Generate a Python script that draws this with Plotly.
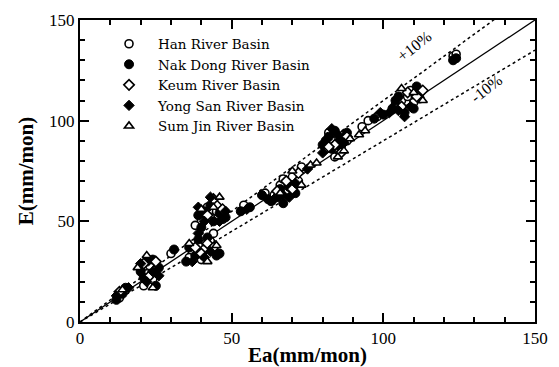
import plotly.graph_objects as go

# ---- data (Ea, E) in mm/mon ----
han_x = [13, 15, 21, 22, 23, 24, 25, 20, 30, 37, 39, 41, 40, 43, 44, 36, 40, 43, 45, 47, 42, 38, 54, 61,
         64, 66, 68, 70, 72, 67, 73, 81, 83, 85, 87, 84, 88, 82, 93, 95, 98, 104, 106, 108, 110, 109, 112, 123, 124]
han_y = [12, 16, 18, 24, 28, 21, 26, 26, 34, 35, 38, 36, 31, 40, 44, 32, 50, 52, 55, 51, 57, 48, 58, 64,
         63, 68, 65, 72, 70, 71, 77, 86, 90, 88, 93, 82, 90, 94, 97, 100, 102, 108, 110, 112, 109, 115, 114, 132, 133]

nak_x = [12, 14, 15, 20, 22, 24, 26, 21, 25, 31, 35, 38, 42, 45, 46, 39, 36, 39, 41, 44, 46, 48, 40, 43,
         53, 56, 60, 62, 63, 65, 67, 69, 71, 66, 80, 82, 84, 86, 88, 83, 81, 86, 97, 100,
         103, 105, 107, 110, 112, 111, 104, 124, 123]
nak_y = [11, 14, 17, 25, 30, 31, 27, 22, 18, 36, 30, 33, 42, 33, 34, 41, 37, 53, 55, 50, 54, 52, 47, 58,
         55, 57, 63, 61, 60, 62, 59, 67, 64, 66, 88, 92, 95, 91, 94, 86, 90, 87, 101, 103,
         106, 112, 104, 106, 111, 117, 110, 131, 130]

keum_x = [13, 23, 21, 25, 38, 40, 42, 44, 42, 45, 47, 44, 68, 70, 65, 72, 84, 86, 88, 82, 106, 108, 111, 113]
keum_y = [15, 23, 29, 30, 37, 34, 39, 37, 53, 58, 56, 61, 70, 66, 65, 74, 88, 84, 92, 87, 107, 114, 112, 115]

yong_x = [12, 16, 22, 24, 26, 20, 37, 41, 43, 39, 41, 43, 46, 39, 48, 55, 64, 69, 71, 67, 75, 80, 85, 87, 83,
          99, 105, 107, 109, 102]
yong_y = [13, 17, 20, 25, 23, 29, 30, 32, 35, 44, 50, 62, 50, 57, 55, 56, 61, 62, 69, 63, 76, 84, 93, 89, 96,
          104, 105, 102, 107, 104]

sum_x = [14, 22, 19, 24, 36, 42, 45, 44, 40, 46, 66, 70, 73, 76, 78, 85, 89, 87, 94, 92, 110, 113, 106]
sum_y = [16, 33, 27, 17, 39, 30, 38, 57, 56, 62, 64, 75, 68, 78, 79, 82, 91, 85, 95, 93, 114, 110, 116]

series_names = ["Han River Basin", "Nak Dong River Basin", "Keum River Basin",
                "Yong San River Basin", "Sum Jin River Basin"]

line_x = [0, 150]
ratio_labels = ["+10%", "-10%"]

fig = go.Figure()

# reference lines (1:1 and +/-10 %)
fig.add_trace(go.Scatter(x=line_x, y=line_x, mode="lines",
                         line=dict(color="black", width=1.3), showlegend=False, hoverinfo="skip"))
fig.add_trace(go.Scatter(x=line_x, y=[v * 1.1 for v in line_x], mode="lines",
                         line=dict(color="black", width=1.5, dash="dot"), showlegend=False, hoverinfo="skip"))
fig.add_trace(go.Scatter(x=line_x, y=[v * 0.9 for v in line_x], mode="lines",
                         line=dict(color="black", width=1.5, dash="dot"), showlegend=False, hoverinfo="skip"))

styles = [
    dict(symbol="circle", color="white", size=8, line=dict(color="black", width=1.6)),
    dict(symbol="circle", color="black", size=9, line=dict(color="black", width=1)),
    dict(symbol="diamond", color="white", size=8, line=dict(color="black", width=1.6)),
    dict(symbol="diamond", color="black", size=8, line=dict(color="black", width=1)),
    dict(symbol="triangle-up", color="white", size=8, line=dict(color="black", width=1.6)),
]
xs = [han_x, nak_x, keum_x, yong_x, sum_x]
ys = [han_y, nak_y, keum_y, yong_y, sum_y]
for name, x, y, st in zip(series_names, xs, ys, styles):
    fig.add_trace(go.Scatter(x=x, y=y, mode="markers", name=name, marker=st, cliponaxis=True))

fig.add_annotation(x=110, y=137, text=ratio_labels[0], showarrow=False, textangle=-38,
                   font=dict(family="Liberation Serif", size=16, color="black"))
fig.add_annotation(x=134, y=116, text=ratio_labels[1], showarrow=False, textangle=-38,
                   font=dict(family="Liberation Serif", size=16, color="black"))

axis_common = dict(
    range=[0, 150], dtick=50, ticks="inside", ticklen=9, tickwidth=1.5, tickcolor="black",
    minor=dict(dtick=10, ticks="inside", ticklen=5, tickwidth=1.5, tickcolor="black"),
    showline=True, linecolor="black", linewidth=2, mirror="allticks",
    showgrid=False, zeroline=False, automargin=False,
    tickfont=dict(family="Liberation Serif", size=17, color="black"),
)

fig.update_layout(
    width=559, height=367,
    margin=dict(l=80, r=24, t=20, b=45),
    paper_bgcolor="white", plot_bgcolor="white",
    xaxis=dict(**axis_common,
               title=dict(text="<b>Ea(mm/mon)</b>", standoff=0,
                          font=dict(family="Liberation Serif", size=21, color="black"))),
    yaxis=dict(**axis_common,
               title=dict(text="<b>E(mm/mon)</b>", standoff=10,
                          font=dict(family="Liberation Serif", size=21, color="black"))),
    legend=dict(x=0.044, y=0.972, xanchor="left", yanchor="top",
                bgcolor="rgba(0,0,0,0)", borderwidth=0,
                font=dict(family="DejaVu Serif", size=13.5, color="black"),
                itemwidth=48, tracegroupgap=0),
    showlegend=True,
)

fig.write_html("out.html")
